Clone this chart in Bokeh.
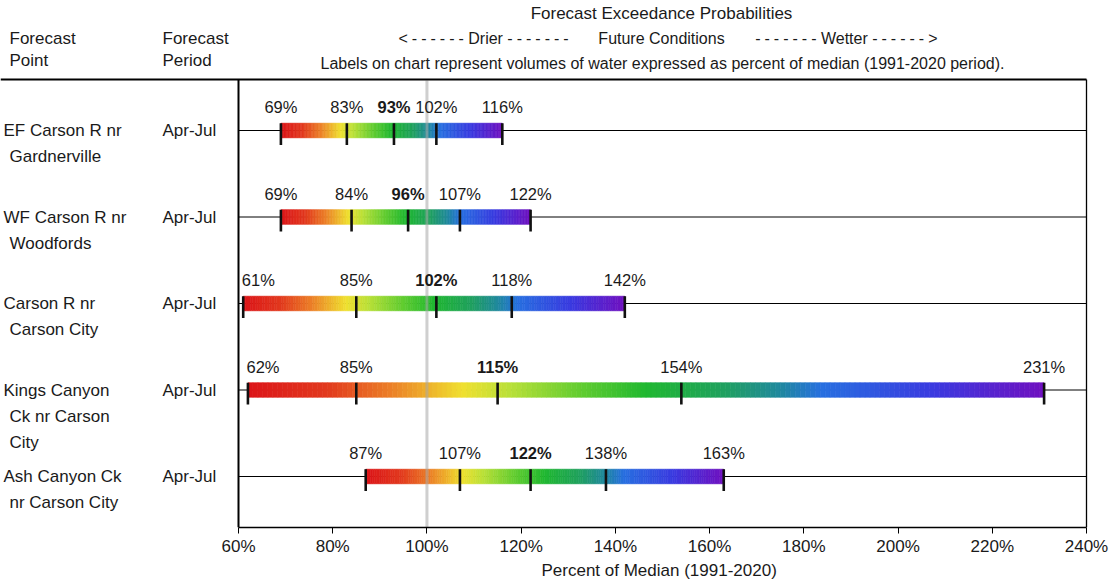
from bokeh.plotting import figure
from bokeh.models import Range1d, FixedTicker, PrintfTickFormatter, Title
from bokeh.core.properties import value
from bokeh.embed import file_html
from bokeh.resources import INLINE

# ---------------- data ----------------
forecast_points = [
    ["EF Carson R nr", "Gardnerville"],
    ["WF Carson R nr", "Woodfords"],
    ["Carson R nr", "Carson City"],
    ["Kings Canyon", "Ck nr Carson", "City"],
    ["Ash Canyon Ck", "nr Carson City"],
]
forecast_periods = ["Apr-Jul", "Apr-Jul", "Apr-Jul", "Apr-Jul", "Apr-Jul"]
exc90 = [69, 69, 61, 62, 87]
exc70 = [83, 84, 85, 85, 107]
exc50 = [93, 96, 102, 115, 122]
exc30 = [102, 107, 118, 154, 138]
exc10 = [116, 122, 142, 231, 163]
x_ticks = [60, 80, 100, 120, 140, 160, 180, 200, 220, 240]
median_ref = 100
x_min, x_max = 60, 240

SP = "\u2005"
title_text = "Forecast Exceedance Probabilities"
drier_text = "<" + SP + SP.join("-" * 6) + " Drier " + SP.join("-" * 7)
future_text = "Future Conditions"
wetter_text = SP.join("-" * 7) + " Wetter " + SP.join("-" * 6) + SP + ">"
note_text = "Labels on chart represent volumes of water expressed as percent of median (1991-2020 period)."
head_point = ["Forecast", "Point"]
head_period = ["Forecast", "Period"]
x_label = "Percent of Median (1991-2020)"

# ---------------- layout helpers (picture pixel -> data) ----------------
PX0, PX1 = 238, 1086
ROW0, ROW_STEP = 130, 86.5


def X(px):
    return x_min + (px - PX0) * (x_max - x_min) / (PX1 - PX0)


def Y(py):
    return (py - ROW0) / ROW_STEP


FONT = "Liberation Sans"
TXT = "#1a1a1a"

p = figure(width=1110, height=584, output_backend="svg", toolbar_location=None,
           x_range=Range1d(X(0), X(1088)), y_range=Range1d(Y(527), Y(0)),
           y_axis_location=None, min_border_left=0, min_border_right=22,
           min_border_top=0, min_border_bottom=57)
p.outline_line_color = None
p.xgrid.visible = False
p.ygrid.visible = False
p.background_fill_color = "white"
p.border_fill_color = "white"

ax = p.xaxis[0]
ax.bounds = (x_min, x_max)
ax.ticker = FixedTicker(ticks=x_ticks)
ax.formatter = PrintfTickFormatter(format="%d%%")
ax.major_tick_in = 0
ax.major_tick_out = 6
ax.minor_tick_line_color = None
ax.axis_line_width = 1.5
ax.axis_line_color = "black"
ax.major_tick_line_color = "black"
ax.major_label_text_font = FONT
ax.major_label_text_font_size = "17px"
ax.major_label_text_color = TXT
ax.major_label_standoff = 3

# axis title placed below the axis, starting where the reference starts it
p.add_layout(Title(text=x_label, align="left", offset=541, standoff=0,
                   text_font=FONT, text_font_size="17px", text_font_style="normal",
                   text_color=TXT), "below")

rows = list(range(len(exc50)))

# row lines
p.segment(x0=[x_min] * len(rows), x1=[x_max] * len(rows), y0=rows, y1=rows,
          line_color="black", line_width=1)

# gradient bars
stops = [(0.00, "#dc1419"), (0.10, "#e23a1e"), (0.18, "#ec8028"), (0.27, "#f0e030"),
         (0.33, "#b8e038"), (0.42, "#60cc30"), (0.50, "#20b830"), (0.60, "#20a060"),
         (0.67, "#2088a0"), (0.72, "#2870e0"), (0.86, "#3a3ae0"), (1.00, "#7010c0")]


def hex2rgb(h):
    return [int(h[i:i + 2], 16) for i in (1, 3, 5)]


def grad(t):
    for (t0, c0), (t1, c1) in zip(stops[:-1], stops[1:]):
        if t <= t1:
            f = (t - t0) / (t1 - t0)
            a, b = hex2rgb(c0), hex2rgb(c1)
            return "#%02x%02x%02x" % tuple(int(round(a[k] + (b[k] - a[k]) * f)) for k in range(3))
    return stops[-1][1]


N = 160
BH = 7.3 / ROW_STEP
L, R, T, B, C = [], [], [], [], []
for i in rows:
    lo, hi = exc90[i], exc10[i]
    for k in range(N):
        L.append(lo + (hi - lo) * k / N)
        R.append(lo + (hi - lo) * (k + 1) / N)
        T.append(i - BH)
        B.append(i + BH)
        C.append(grad((k + 0.5) / N))
p.quad(left=L, right=R, top=T, bottom=B, fill_color=C, line_color=C, line_width=0.6)

# tick marks at each exceedance value
tx, ty0, ty1 = [], [], []
for i in rows:
    for v in (exc90[i], exc70[i], exc50[i], exc30[i], exc10[i]):
        tx.append(v)
        ty0.append(i - BH)
        ty1.append(i + 14.5 / ROW_STEP)
p.segment(x0=tx, x1=tx, y0=ty0, y1=ty1, line_color="#111111", line_width=2.6)

# median reference line
p.segment(x0=[median_ref], x1=[median_ref], y0=[Y(80)], y1=[Y(527)],
          line_color="#a8a8a8", line_width=3, line_alpha=0.55)

# frame lines
p.segment(x0=[X(0)], x1=[x_max], y0=[Y(79)], y1=[Y(79)], line_color="black", line_width=2)
p.segment(x0=[x_min], x1=[x_min], y0=[Y(79)], y1=[Y(527)], line_color="black", line_width=2)
p.segment(x0=[x_max], x1=[x_max], y0=[Y(79)], y1=[Y(527)], line_color="black", line_width=1.3)

# bar value labels
LY = 23.5 / ROW_STEP
for series, bold in ((exc90, False), (exc70, False), (exc50, True), (exc30, False), (exc10, False)):
    xs_c, ys_c, tx_c, xs_l, ys_l, tx_l = [], [], [], [], [], []
    for i in rows:
        v = series[i]
        if v - x_min < 4:
            xs_l.append(v - 0.3)
            ys_l.append(i - LY)
            tx_l.append(f"{v}%")
        else:
            xs_c.append(v)
            ys_c.append(i - LY)
            tx_c.append(f"{v}%")
    style = "bold" if bold else "normal"
    if xs_c:
        p.text(x=xs_c, y=ys_c, text=tx_c, text_font=value(FONT), text_font_size="16.5px",
               text_font_style=style, text_color=TXT, text_align="center", text_baseline="middle")
    if xs_l:
        p.text(x=xs_l, y=ys_l, text=tx_l, text_font=value(FONT), text_font_size="16.5px",
               text_font_style=style, text_color=TXT, text_align="left", text_baseline="middle")

# left columns: forecast point names and periods
nx, ny, nt = [], [], []
for i in rows:
    for k, line in enumerate(forecast_points[i]):
        nx.append(X(3) if k == 0 else X(9))
        ny.append(i + k * 26.3 / ROW_STEP)
        nt.append(line)
p.text(x=nx, y=ny, text=nt, text_font=value(FONT), text_font_size="17px",
       text_color=TXT, text_align="left", text_baseline="middle")
p.text(x=[X(162)] * len(rows), y=rows, text=forecast_periods, text_font=value(FONT),
       text_font_size="17px", text_color=TXT, text_align="left", text_baseline="middle")

# column headers
p.text(x=[X(9), X(9), X(162), X(162)], y=[Y(38), Y(60), Y(38), Y(60)],
       text=[head_point[0], head_point[1], head_period[0], head_period[1]],
       text_font=value(FONT), text_font_size="17px", text_color=TXT,
       text_align="left", text_baseline="middle")

# header texts
p.text(x=[X(661)], y=[Y(12.5)], text=[title_text], text_font=value(FONT), text_font_size="17px",
       text_color=TXT, text_align="center", text_baseline="middle")
p.text(x=[X(398)], y=[Y(38)], text=[drier_text], text_font=value(FONT), text_font_size="16px",
       text_color=TXT, text_align="left", text_baseline="middle")
p.text(x=[X(661)], y=[Y(38)], text=[future_text], text_font=value(FONT), text_font_size="16px",
       text_color=TXT, text_align="center", text_baseline="middle")
p.text(x=[X(937)], y=[Y(38)], text=[wetter_text], text_font=value(FONT), text_font_size="16px",
       text_color=TXT, text_align="right", text_baseline="middle")
p.text(x=[X(662)], y=[Y(63)], text=[note_text], text_font=value(FONT), text_font_size="16px",
       text_color=TXT, text_align="center", text_baseline="middle")

open("out.html", "w").write(file_html(p, INLINE))
